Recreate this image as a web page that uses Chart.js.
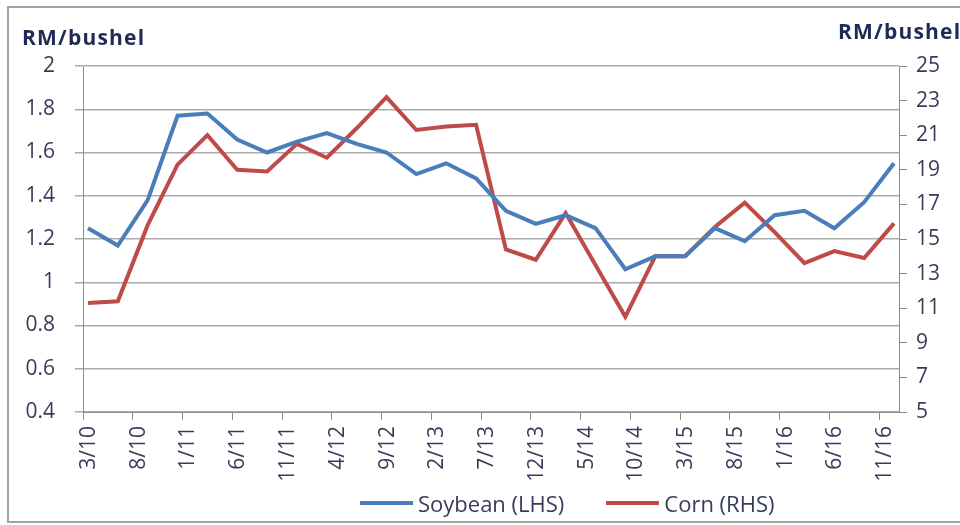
<!DOCTYPE html>
<html>
<head>
<meta charset="utf-8">
<script src="https://cdn.jsdelivr.net/npm/chart.js@4.4.1/dist/chart.umd.min.js"></script>
<style>
    html, body { margin: 0; padding: 0; background: #fff; overflow: hidden; }
    #wrap { position: relative; width: 960px; height: 525px; }
    #frame { position: absolute; left: 7px; top: 6px; width: 960px; height: 513px;
             border: 2px solid #a3a3a3; pointer-events: none; }
    .unit { position: absolute; font: bold 21px "Open Sans", sans-serif; letter-spacing: 1.2px;
            color: #1f2a55; white-space: nowrap; line-height: 1; }
    #legend { position: absolute; top: 481px; left: 360px; height: 30px;
              font: 22px "Open Sans", sans-serif; color: #383c5a; white-space: nowrap; }
    .item { display: inline-flex; align-items: center; margin-right: 42px; }
    .swatch { display: inline-block; width: 53px; height: 4px; margin-right: 5px; }
</style>
</head>
<body>
<div id="wrap">
    <canvas id="priceChart" width="960" height="525"></canvas>
    <div class="unit" id="unit-left" style="left:22px; top:27px;">RM/bushel</div>
    <div class="unit" id="unit-right" style="left:838px; top:21px;">RM/bushel</div>
    <div id="legend"></div>
    <div id="frame"></div>
</div>
<script>
const quarters = ['3/10','6/10','9/10','12/10','3/11','6/11','9/11','12/11',
                  '3/12','6/12','9/12','12/12','3/13','6/13','9/13','12/13',
                  '3/14','6/14','9/14','12/14','3/15','6/15','9/15','12/15',
                  '3/16','6/16','9/16','12/16'];

const soybean = [1.25, 1.17, 1.38, 1.77, 1.78, 1.66, 1.60, 1.65,
                 1.69, 1.64, 1.60, 1.50, 1.55, 1.48, 1.33, 1.27,
                 1.31, 1.25, 1.06, 1.12, 1.12, 1.25, 1.19, 1.31,
                 1.33, 1.25, 1.37, 1.55];

const corn = [11.3, 11.4, 15.8, 19.3, 21.0, 19.0, 18.9, 20.5,
              19.7, 21.4, 23.2, 21.3, 21.5, 21.6, 14.4, 13.8,
              16.5, 13.5, 10.5, 14.0, 14.0, 15.7, 17.1, 15.4,
              13.6, 14.3, 13.9, 15.9];

// Axis labels every 5 months starting 3/10
const tickLabels = ['3/10','8/10','1/11','6/11','11/11','4/12','9/12','2/13','7/13',
                    '12/13','5/14','10/14','3/15','8/15','1/16','6/16','11/16'];

const seriesNames = ['Soybean (LHS)', 'Corn (RHS)'];
const seriesColors = ['#4a7ebb', '#be4b48'];

// months since 3/10, placed in the middle of the month
function monthPos(label) {
    const [m, yy] = label.split('/').map(Number);
    return (yy - 10) * 12 + (m - 3) + 0.5;
}

const tickFont = { family: '"Open Sans", sans-serif', size: 21 };
const tickColor = '#383c5a';

new Chart(document.getElementById('priceChart'), {
    type: 'line',
    data: {
        datasets: [
            {
                label: seriesNames[0],
                data: quarters.map((q, i) => ({ x: monthPos(q), y: soybean[i] })),
                borderColor: seriesColors[0],
                borderWidth: 4,
                pointRadius: 0,
                yAxisID: 'y'
            },
            {
                label: seriesNames[1],
                data: quarters.map((q, i) => ({ x: monthPos(q), y: corn[i] })),
                borderColor: seriesColors[1],
                borderWidth: 4,
                pointRadius: 0,
                yAxisID: 'y1'
            }
        ]
    },
    options: {
        responsive: false,
        animation: false,
        layout: { padding: { top: 66, left: 0, right: 0, bottom: 0 } },
        plugins: {
            legend: { display: false },
            tooltip: { enabled: false }
        },
        scales: {
            x: {
                type: 'linear',
                min: 0,
                max: 82,
                afterFit: scale => { scale.height = 113; },
                ticks: {
                    stepSize: 5,
                    includeBounds: false,
                    minRotation: 90,
                    maxRotation: 90,
                    padding: 6,
                    labelOffset: 6,
                    color: tickColor,
                    font: tickFont,
                    callback: value => tickLabels[value / 5]
                },
                grid: { drawOnChartArea: false, tickLength: 8, color: '#8c8c8c' },
                border: { color: '#8c8c8c', width: 1 }
            },
            y: {
                position: 'left',
                min: 0.4,
                max: 2,
                afterFit: scale => { scale.width = 83; },
                ticks: {
                    stepSize: 0.2,
                    padding: 20,
                    color: tickColor,
                    font: tickFont,
                    callback: value => String(Number(value.toFixed(1)))
                },
                grid: { color: '#ababab', lineWidth: 1.5, tickLength: 8 },
                border: { color: '#8c8c8c', width: 1 }
            },
            y1: {
                position: 'right',
                min: 5,
                max: 25,
                afterFit: scale => { scale.width = 61; },
                ticks: {
                    stepSize: 2,
                    padding: 9,
                    color: tickColor,
                    font: tickFont
                },
                grid: { drawOnChartArea: false, color: '#8c8c8c', tickLength: 8 },
                border: { color: '#8c8c8c', width: 1 }
            }
        }
    }
});

// Legend built from the series names
const legend = document.getElementById('legend');
seriesNames.forEach((name, i) => {
    const item = document.createElement('span');
    item.className = 'item';
    item.innerHTML = `<span class="swatch" style="background:${seriesColors[i]}"></span>${name}`;
    legend.appendChild(item);
});
</script>
</body>
</html>
